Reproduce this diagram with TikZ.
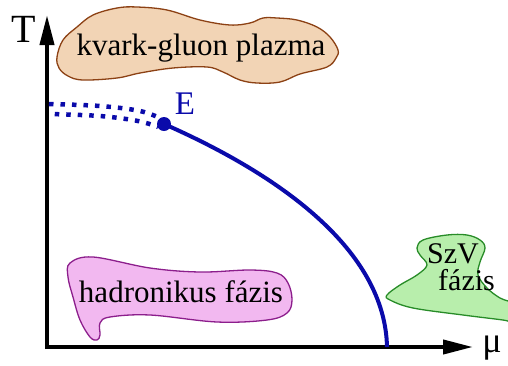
\documentclass[tikz,border=0pt]{standalone}
\usepackage{fontspec}
\setmainfont{Liberation Serif}
\newfontfamily\tnr{Liberation Serif}
\usetikzlibrary{arrows.meta}
\definecolor{qgpfill}{RGB}{242,212,181}
\definecolor{qgpline}{RGB}{140,65,20}
\definecolor{hadfill}{RGB}{242,184,240}
\definecolor{hadline}{RGB}{140,30,140}
\definecolor{szvfill}{RGB}{184,238,172}
\definecolor{szvline}{RGB}{40,140,40}
\definecolor{curveblue}{RGB}{10,10,170}
\tikzset{
  axis/.style={line width=4pt,-{Triangle[length=30pt,width=14pt]}},
  blob/.style={line width=1.3pt},
  lbl/.style={font=\tnr\fontsize{31}{36}\selectfont,anchor=base,inner sep=0pt},
  transline/.style={curveblue,line width=4pt},
  dotrow/.style={curveblue,line width=4.5pt,dash pattern=on 4.5pt off 7pt},
}
\begin{document}
\begin{tikzpicture}[x=1pt,y=-1pt]
\useasboundingbox (0,0) rectangle (508,365);
% kvark-gluon plasma blob
\draw[blob,draw=qgpline,fill=qgpfill] plot[smooth cycle,tension=0.6] coordinates {
(57,57) (63,40) (77,27) (93,15) (117,8) (137,7) (167,10) (200,20) (230,25)
(250,23) (263,18) (277,18) (297,20) (317,27) (330,37) (338,50) (336,58)
(327,67) (300,74) (280,82) (257,83) (240,80) (223,72) (207,67) (173,68)
(140,73) (117,78) (83,80) (68,76) (59,68)};
\node[lbl] (qgp) at (201,55) {kvark-gluon plazma};
% hadronic blob
\draw[blob,draw=hadline,fill=hadfill] plot[smooth cycle,tension=0.6] coordinates {
(70,263) (93,257) (150,268) (200,272) (250,270) (277,273) (288,283) (292,300)
(287,313) (267,320) (217,322) (150,315) (110,317) (100,323) (100,335) (97,340)
(90,337) (80,320) (73,297) (68,277)};
\node[lbl] (had) at (181,302) {hadronikus fázis};
% SzV blob
\begin{scope}
\clip (0,0) rectangle (508,365);
\draw[blob,draw=szvline,fill=szvfill] plot[smooth cycle,tension=0.6] coordinates {
(417,248) (423,240) (447,235) (467,235) (480,240) (485,248) (480,262) (478,275)
(487,288) (500,298) (515,305) (515,322) (503,320) (463,315) (413,308) (390,300)
(387,295) (400,285) (417,275) (427,265) (420,255)};
\end{scope}
\node[lbl,anchor=base west,align=left,font=\tnr\fontsize{30}{27}\selectfont] (szv) at (427,290) {SzV\\\hspace*{11pt}fázis};
% axes
\coordinate (O) at (47,347);
\coordinate (Ttip) at (47,15);
\coordinate (Mtip) at (473,347);
\draw[axis] (47,349) -- (Ttip);
\draw[axis] (45,347) -- (Mtip);
\node[font=\tnr\fontsize{40}{44}\selectfont,anchor=base,inner sep=0pt] (T) at (24,42) {T};
\node[font=\tnr\fontsize{36}{40}\selectfont,anchor=base,inner sep=0pt] (mu) at (492,352) {μ};
% crossover (checkered)
\coordinate (E) at (164,124);
\draw[dotrow] plot[smooth,tension=0.6] coordinates {(49,104) (100,106) (140,111) (162,119)};
\draw[dotrow,dash phase=5.75pt] plot[smooth,tension=0.6] coordinates {(49,114) (100,116) (138,121) (158,127)};
% first-order line
\coordinate (muc) at (387,347);
\draw[transline] (E) .. controls (280,175) and (385,250) .. (muc);
\fill[curveblue] (E) circle (7pt);
\node[lbl,text=curveblue,font=\tnr\fontsize{33}{36}\selectfont] (Elbl) at (185,114) {E};
\end{tikzpicture}
\end{document}
